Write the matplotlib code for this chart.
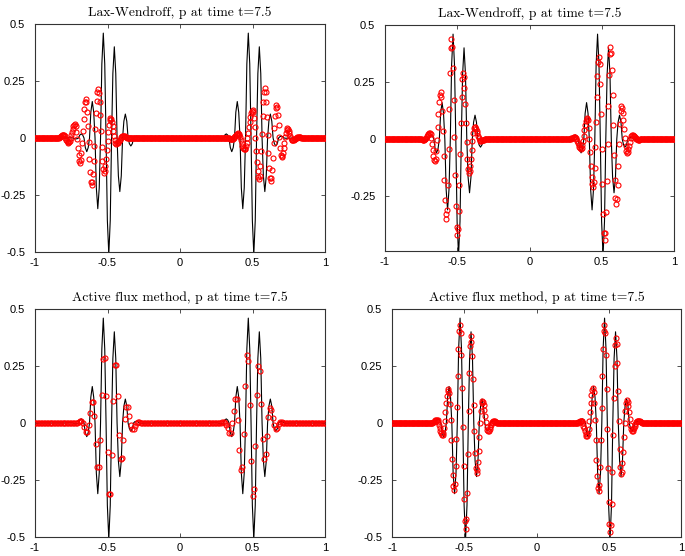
import numpy as np
import matplotlib
matplotlib.use("Agg")
import matplotlib.pyplot as plt

titles = ["Lax-Wendroff, p at time t=7.5", "Lax-Wendroff, p at time t=7.5",
          "Active flux method, p at time t=7.5", "Active flux method, p at time t=7.5"]

xticks = [-1, -0.5, 0, 0.5, 1]
xtick_labels = ["-1", "-0.5", "0", "0.5", "1"]
yticks = [-0.5, -0.25, 0, 0.25, 0.5]
ytick_labels = ["-0.5", "-0.25", "0", "0.25", "0.5"]

# exact solution: one wave packet (left packet);
# the right packet has the same shape, one unit further right
packet_x = [-0.80, -0.757, -0.747, -0.738, -0.729, -0.719, -0.709, -0.700, -0.691,
            -0.681, -0.671, -0.662, -0.653, -0.643, -0.633, -0.624, -0.615, -0.605,
            -0.595, -0.586, -0.577, -0.567, -0.557, -0.548, -0.539, -0.529, -0.519,
            -0.510, -0.501, -0.491, -0.481, -0.472, -0.463, -0.453, -0.443, -0.434,
            -0.425, -0.415, -0.405, -0.396, -0.387, -0.377, -0.367, -0.358, -0.349,
            -0.339, -0.329, -0.320, -0.311, -0.301, -0.291, -0.282, -0.273, -0.263,
            -0.22]
packet_p = [0.0, 0.001, 0.001, 0.0, -0.003, -0.004, -0.003, 0.0, 0.013,
            0.018, 0.013, 0.0, -0.042, -0.060, -0.042, 0.0, 0.113, 0.160,
            0.113, 0.0, -0.219, -0.310, -0.219, 0.0, 0.325, 0.460, 0.325,
            0.0, -0.361, -0.510, -0.361, 0.0, 0.283, 0.400, 0.283, 0.0,
            -0.166, -0.235, -0.166, 0.0, 0.074, 0.105, 0.074, 0.0, -0.025,
            -0.035, -0.025, 0.0, 0.006, 0.008, 0.006, 0.0, -0.001, -0.001,
            0.0]

# numerical values (red circles); zero outside the listed stretches
# Lax-Wendroff, grid step 0.005
lw1_left_x0 = -0.845
lw1_left = [0.000, 0.001, 0.002, 0.004, 0.006, 0.009, 0.011, 0.012,
            0.013, 0.011, 0.007, 0.000, -0.007, -0.014, -0.018,
            -0.020, -0.018, -0.011, 0.000, 0.013, 0.027, 0.040, 0.051, 0.058,
            0.060, 0.052, 0.028, -0.005, -0.043, -0.076, -0.100,
            -0.108, -0.097, -0.067, -0.022, 0.031, 0.084, 0.129, 0.159,
            0.170, 0.156, 0.115, 0.054, -0.018, -0.090, -0.151, -0.192,
            -0.206, -0.193, -0.157, -0.101, -0.033, 0.040, 0.108, 0.164, 0.200,
            0.213, 0.199, 0.160, 0.100, 0.031, -0.039, -0.099, -0.138,
            -0.152, -0.145, -0.124, -0.093, -0.054, -0.012, 0.027, 0.058, 0.079,
            0.086, 0.082, 0.070, 0.052, 0.031, 0.009, -0.009, -0.021,
            -0.025, -0.024, -0.022, -0.018, -0.013, -0.008, -0.002, 0.003, 0.007, 0.009,
            0.010, 0.010, 0.008, 0.006, 0.004, 0.002, 0.000, -0.002,
            -0.002, -0.002, -0.002, -0.001, -0.001, -0.001, 0.000, 0.000]
lw1_right_x0 = 0.32
lw1_right = [0.000, 0.000, -0.001, -0.001, -0.002, -0.003, -0.003, -0.004,
             -0.004, -0.003, -0.001, 0.003, 0.008, 0.013, 0.016, 0.019,
             0.020, 0.018, 0.012, 0.003, -0.009, -0.021, -0.033, -0.042, -0.048,
             -0.050, -0.047, -0.036, -0.020, 0.001, 0.024, 0.049, 0.072, 0.093, 0.109, 0.120,
             0.123, 0.114, 0.088, 0.047, -0.002, -0.055, -0.104, -0.145, -0.171,
             -0.180, -0.165, -0.122, -0.057, 0.019, 0.095, 0.160, 0.203,
             0.218, 0.203, 0.158, 0.092, 0.014, -0.064, -0.130, -0.175,
             -0.190, -0.177, -0.141, -0.087, -0.023, 0.042, 0.096, 0.132,
             0.145, 0.134, 0.102, 0.056, 0.004, -0.042, -0.074,
             -0.085, -0.080, -0.066, -0.046, -0.022, 0.003, 0.023, 0.037,
             0.042, 0.039, 0.032, 0.022, 0.010, 0.000, -0.007,
             -0.010, -0.009, -0.008, -0.006, -0.003, 0.000, 0.002, 0.003,
             0.004, 0.004, 0.003, 0.003, 0.002, 0.001, 0.001, 0.000]

lw2_left_x0 = -0.77
lw2_left = [0.000, 0.000, 0.000, -0.001, -0.001, -0.001, -0.002, -0.002,
            -0.002, -0.001, 0.002, 0.007, 0.013, 0.019, 0.024, 0.027,
            0.028, 0.022, 0.004, -0.021, -0.048, -0.073, -0.091,
            -0.097, -0.086, -0.053, -0.004, 0.054, 0.112, 0.161, 0.194,
            0.205, 0.184, 0.124, 0.034, -0.072, -0.177, -0.267, -0.327,
            -0.348, -0.309, -0.200, -0.043, 0.132, 0.289, 0.398,
            0.437, 0.404, 0.312, 0.173, 0.009, -0.156, -0.295, -0.387,
            -0.420, -0.393, -0.316, -0.201, -0.065, 0.071, 0.186, 0.263,
            0.290, 0.273, 0.226, 0.155, 0.071, -0.014, -0.085, -0.132,
            -0.149, -0.141, -0.119, -0.086, -0.047, -0.008, 0.025, 0.047,
            0.055, 0.053, 0.046, 0.036, 0.025, 0.013, 0.003, -0.004,
            -0.006, -0.006, -0.005, -0.004, -0.003, -0.002, -0.001, 0.000]
lw2_right_x0 = 0.275
lw2_right = [0.000, 0.000, 0.001, 0.003, 0.005, 0.006, 0.008, 0.009,
             0.009, 0.007, 0.002, -0.007, -0.017, -0.026, -0.035, -0.040,
             -0.042, -0.038, -0.026, -0.008, 0.014, 0.038, 0.060, 0.078, 0.090,
             0.094, 0.082, 0.050, 0.000, -0.058, -0.116, -0.166, -0.198,
             -0.210, -0.188, -0.127, -0.034, 0.075, 0.184, 0.277, 0.338,
             0.360, 0.329, 0.242, 0.112, -0.042, -0.196, -0.326, -0.413,
             -0.444, -0.412, -0.320, -0.182, -0.020, 0.143, 0.281, 0.373,
             0.405, 0.379, 0.304, 0.193, 0.062, -0.070, -0.181, -0.256,
             -0.282, -0.261, -0.201, -0.116, -0.020, 0.065, 0.125,
             0.146, 0.138, 0.116, 0.082, 0.043, 0.004, -0.030, -0.052,
             -0.060, -0.056, -0.045, -0.030, -0.012, 0.003, 0.014,
             0.018, 0.017, 0.015, 0.012, 0.008, 0.004, 0.001, -0.001,
             -0.002, -0.002, -0.002, -0.001, -0.001, -0.001, 0.000, 0.000]

# Active flux, coarse grid step 0.01
af1_left_x0 = -0.70
af1_left = [0.003, 0.008, 0.008, 0.000, -0.019, -0.040, -0.040, -0.007, 0.046, 0.092,
            0.092, 0.029, -0.091, -0.192, -0.192, -0.073, 0.124, 0.281, 0.284, 0.117,
            -0.129, -0.311, -0.313, -0.142, 0.095, 0.254, 0.254, 0.120, -0.054, -0.157,
            -0.155, -0.073, 0.019, 0.071, 0.068, 0.032, -0.010, -0.025, -0.025, -0.012,
            0.000, 0.004, 0.004, 0.001]
af1_right_x0 = 0.28
af1_right = [0.002, 0.006, 0.006, 0.000, -0.008, -0.022, -0.044, -0.044, -0.002, 0.054,
             0.104, 0.104, 0.014, -0.117, -0.205, -0.195, -0.047, 0.161, 0.300, 0.270,
             0.080, -0.168, -0.322, -0.290, -0.100, 0.124, 0.251, 0.226, 0.085, -0.070,
             -0.157, -0.138, -0.056, 0.025, 0.066, 0.058, 0.021, -0.010, -0.025, -0.020,
             -0.005, 0.004, 0.005, 0.002]

# Active flux, fine grid step 0.005
af2_left_x0 = -0.77
af2_left = [0.000, 0.000, 0.000, -0.001, -0.001, -0.001, -0.002, -0.002,
            -0.002, -0.001, 0.000, 0.003, 0.006, 0.009, 0.012, 0.013,
            0.014, 0.011, 0.004, -0.007, -0.020, -0.033, -0.044, -0.051,
            -0.054, -0.046, -0.024, 0.008, 0.047, 0.086, 0.118, 0.140,
            0.148, 0.131, 0.083, 0.011, -0.074, -0.158, -0.230, -0.278,
            -0.295, -0.267, -0.189, -0.071, 0.068, 0.206, 0.324, 0.402,
            0.430, 0.396, 0.299, 0.154, -0.018, -0.189, -0.334, -0.431,
            -0.465, -0.423, -0.306, -0.137, 0.052, 0.221, 0.338,
            0.380, 0.357, 0.292, 0.195, 0.080, -0.035, -0.132, -0.197,
            -0.220, -0.208, -0.173, -0.122, -0.061, 0.000, 0.051, 0.086,
            0.098, 0.093, 0.079, 0.057, 0.032, 0.006, -0.016, -0.030,
            -0.035, -0.033, -0.027, -0.018, -0.009, 0.000, 0.006,
            0.008, 0.008, 0.007, 0.006, 0.004, 0.002, 0.001, 0.000]
af2_right_x0 = 0.23
af2_right = [0.000, 0.000, 0.000, -0.001, -0.001, -0.001, -0.002, -0.002,
             -0.002, -0.002, 0.000, 0.002, 0.004, 0.006, 0.008, 0.010,
             0.010, 0.007, 0.000, -0.011, -0.024, -0.037, -0.048, -0.055,
             -0.058, -0.050, -0.027, 0.007, 0.047, 0.087, 0.121, 0.144,
             0.152, 0.135, 0.086, 0.013, -0.074, -0.161, -0.234, -0.283,
             -0.300, -0.272, -0.193, -0.075, 0.065, 0.205, 0.323, 0.402,
             0.430, 0.395, 0.297, 0.149, -0.025, -0.199, -0.347, -0.445,
             -0.480, -0.448, -0.355, -0.216, -0.053, 0.111, 0.250, 0.343,
             0.375, 0.345, 0.262, 0.142, 0.008, -0.112, -0.195,
             -0.225, -0.213, -0.177, -0.125, -0.063, 0.000, 0.052, 0.088,
             0.100, 0.093, 0.075, 0.048, 0.017, -0.010, -0.028,
             -0.035, -0.033, -0.028, -0.021, -0.013, -0.004, 0.003, 0.008,
             0.010, 0.010, 0.009, 0.007, 0.005, 0.003, 0.001, 0.000]


def numeric(n_points, pieces):
    grid = np.linspace(-1, 1, n_points)
    p = np.zeros(n_points)
    dx = grid[1] - grid[0]
    for x0, vals in pieces:
        i0 = int(round((x0 + 1) / dx))
        p[i0:i0 + len(vals)] = vals
    return grid, p


px = np.array(packet_x)
exact_x = np.concatenate([[-1.0], px, px + 1.0, [1.0]])
exact_p = np.concatenate([[0.0], packet_p, packet_p, [0.0]])

runs = [
    numeric(401, [(lw1_left_x0, lw1_left), (lw1_right_x0, lw1_right)]),
    numeric(401, [(lw2_left_x0, lw2_left), (lw2_right_x0, lw2_right)]),
    numeric(201, [(af1_left_x0, af1_left), (af1_right_x0, af1_right)]),
    numeric(401, [(af2_left_x0, af2_left), (af2_right_x0, af2_right)]),
]

# axes boxes in pixels: left, right, top, bottom
W, H = 685, 556
boxes = [(35, 325, 24, 252), (385, 674, 25, 251),
         (35, 325, 309, 537), (392, 681, 309, 537)]
ylims = [(-0.5, 0.5), (-0.49, 0.5), (-0.5, 0.5), (-0.5, 0.5)]

fig = plt.figure(figsize=(W / 100, H / 100), dpi=100)

for k in range(4):
    l, r, t, b = boxes[k]
    ax = fig.add_axes([l / W, 1 - b / H, (r - l) / W, (b - t) / H])
    ax.plot(exact_x, exact_p, color="black", lw=0.8, zorder=2)
    gx, gp = runs[k]
    ax.plot(gx, gp, linestyle="none", marker="o", ms=3.6, mfc="none",
            mec="red", mew=0.8, zorder=3)
    ax.set_xticks(xticks)
    ax.set_xticklabels(xtick_labels)
    ax.set_yticks(yticks)
    ax.set_yticklabels(ytick_labels)
    # limits after the ticks, so the second panel keeps its clipped bottom
    ax.set_xlim(-1, 1)
    ax.set_ylim(*ylims[k])
    ax.tick_params(direction="in", top=True, right=True, length=3, width=0.6,
                   labelsize=8, color="#333333")
    ax.tick_params(axis="x", pad=4)
    ax.tick_params(axis="y", pad=7)
    for lab in ax.get_xticklabels() + ax.get_yticklabels():
        lab.set_fontfamily("Liberation Sans")
    for s in ax.spines.values():
        s.set_linewidth(0.8)
        s.set_color("#333333")
    ax.set_title(titles[k], fontfamily="cmr10", fontsize=9.8, pad=6)

fig.savefig("out.png", dpi=100)
